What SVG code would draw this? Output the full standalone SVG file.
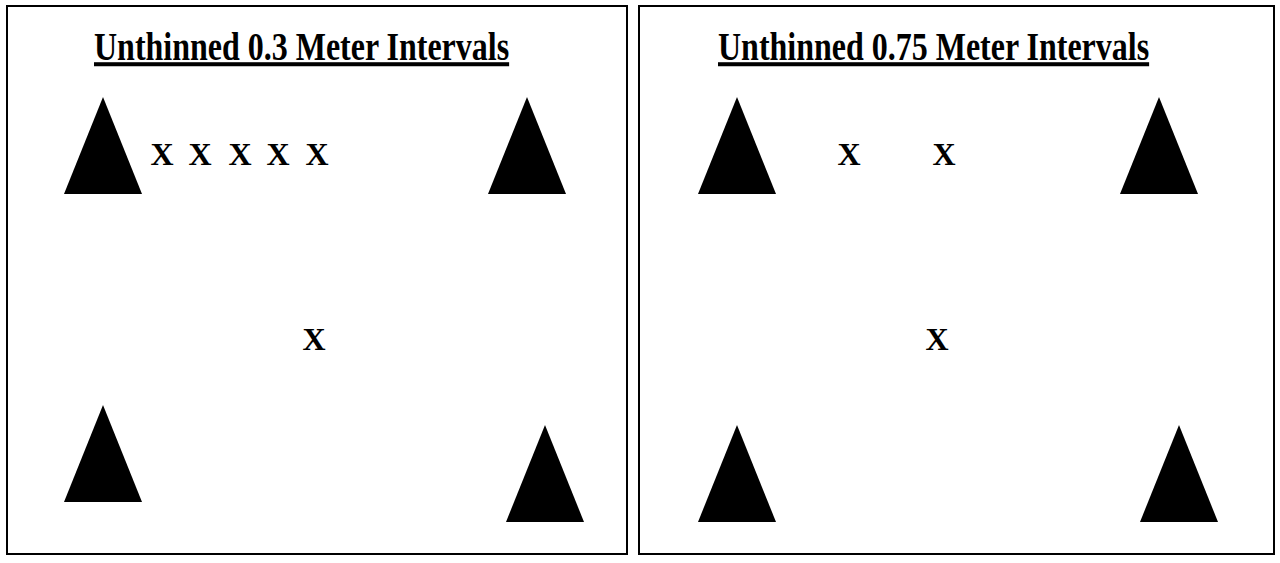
<svg xmlns="http://www.w3.org/2000/svg" width="1280" height="563" viewBox="0 0 1280 563">
  <style>
    .panel { fill: #ffffff; stroke: #000000; stroke-width: 2; }
    .title { font-family: "Liberation Serif", "Times New Roman", serif; font-weight: bold; font-size: 32px; text-anchor: start; fill: #000000; text-decoration: underline; }
    .mark { font-family: "Liberation Serif", "Times New Roman", serif; font-weight: bold; font-size: 32px; text-anchor: middle; fill: #000000; }
    .tree { fill: #000000; }
  </style>
  <defs>
    <!-- tree symbol: apex at (0,0), base 78 wide, 97 tall -->
    <polygon id="tree-shape" points="0,0 39,97 -39,97"/>
  </defs>
  <rect width="1280" height="563" fill="#ffffff"/>

  <!-- left panel: 0.3 m spacing -->
  <g id="panel-03">
    <rect class="panel" x="7" y="6" width="620" height="548"/>
    <text class="title" transform="translate(94 60) scale(1 1.26)">Unthinned 0.3 Meter Intervals</text>
    <g id="tree-03-tl"><use href="#tree-shape" class="tree" x="103" y="97"/></g>
    <g id="tree-03-tr"><use href="#tree-shape" class="tree" x="527" y="97"/></g>
    <g id="tree-03-bl"><use href="#tree-shape" class="tree" x="103" y="405"/></g>
    <g id="tree-03-br"><use href="#tree-shape" class="tree" x="545" y="425"/></g>
    <g id="marks-03">
      <text class="mark" x="162" y="165">X</text>
      <text class="mark" x="200" y="165">X</text>
      <text class="mark" x="240" y="165">X</text>
      <text class="mark" x="278" y="165">X</text>
      <text class="mark" x="317" y="165">X</text>
      <text class="mark" x="314" y="350">X</text>
    </g>
  </g>

  <!-- right panel: 0.75 m spacing -->
  <g id="panel-075">
    <rect class="panel" x="639" y="6" width="635" height="548"/>
    <text class="title" transform="translate(718 60) scale(1 1.26)">Unthinned 0.75 Meter Intervals</text>
    <g id="tree-075-tl"><use href="#tree-shape" class="tree" x="737" y="97"/></g>
    <g id="tree-075-tr"><use href="#tree-shape" class="tree" x="1159" y="97"/></g>
    <g id="tree-075-bl"><use href="#tree-shape" class="tree" x="737" y="425"/></g>
    <g id="tree-075-br"><use href="#tree-shape" class="tree" x="1179" y="425"/></g>
    <g id="marks-075">
      <text class="mark" x="849" y="165">X</text>
      <text class="mark" x="944" y="165">X</text>
      <text class="mark" x="937" y="350">X</text>
    </g>
  </g>
</svg>
